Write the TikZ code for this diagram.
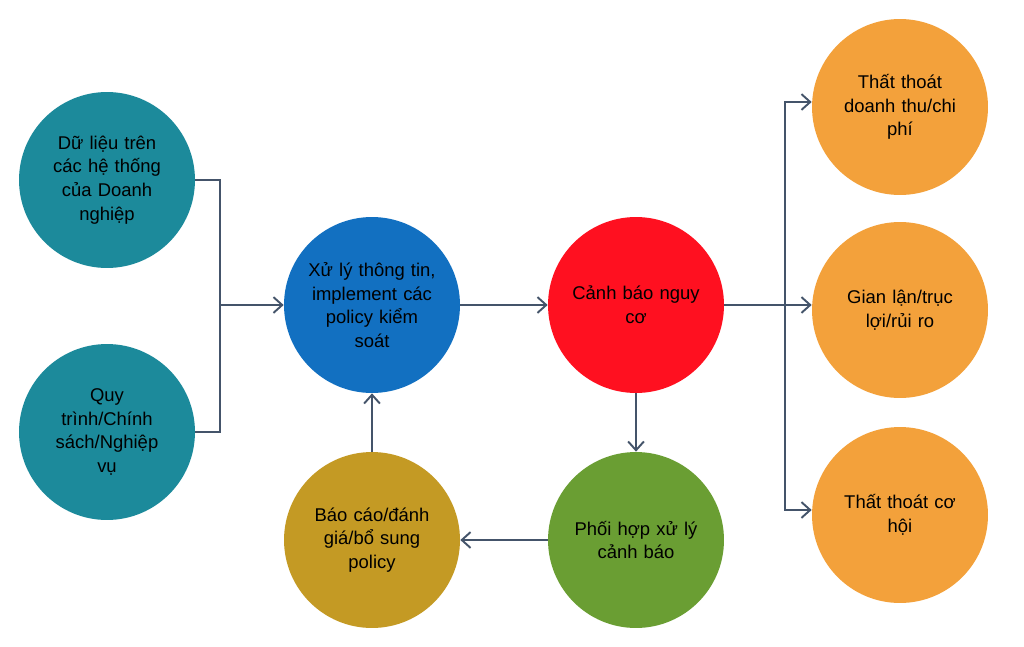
\documentclass[tikz,border=0pt]{standalone}
\usepackage{fontspec}
\setmainfont{Liberation Sans}
\usetikzlibrary{arrows.meta}
\definecolor{teal1}{HTML}{1C8A9B}
\definecolor{blue1}{HTML}{1270C1}
\definecolor{red1}{HTML}{FF1020}
\definecolor{green1}{HTML}{6A9E33}
\definecolor{gold1}{HTML}{C49A24}
\definecolor{orange1}{HTML}{F3A13B}
\definecolor{line1}{HTML}{44546A}
\tikzset{
every node/.style={font=\fontsize{10.5}{13.5}\selectfont}, % text size
stage/.style={circle, minimum size=3.52cm, inner sep=0pt, align=center, text width=3.0cm},
link/.style={draw=line1, line width=1.1pt},
arr/.style={link, -{Straight Barb[length=5pt,width=9pt]}},
}
\begin{document}
\begin{tikzpicture}[x=0.02cm,y=-0.02cm]
\useasboundingbox (0,0) rectangle (1024,646);
		\node[stage, fill=teal1] (data) at (107,180) {Dữ liệu trên\\các hệ thống\\của Doanh\\nghiệp};
		\node[stage, fill=teal1] (rule) at (107,432) {Quy\\trình/Chính\\sách/Nghiệp\\vụ};
		\node[stage, fill=blue1] (proc) at (372,305) {Xử lý thông tin,\\implement các\\policy kiểm\\soát};
		\node[stage, fill=red1] (warn) at (636,305) {Cảnh báo nguy\\cơ};
		\node[stage, fill=green1] (coop) at (636,540) {Phối hợp xử lý\\cảnh báo};
		\node[stage, fill=gold1] (rep) at (372,540) {Báo cáo/đánh\\giá/bổ sung\\policy};
		\node[stage, fill=orange1] (loss) at (900,107) {Thất thoát\\doanh thu/chi\\phí};
		\node[stage, fill=orange1] (fraud) at (900,310) {Gian lận/trục\\lợi/rủi ro};
		\node[stage, fill=orange1] (opp) at (900,515) {Thất thoát cơ\\hội};

		\coordinate (jin) at (220,305);
		\coordinate (jout) at (785,305);

		\draw[link] (data.east) -| (jin) |- (rule.east);
		\draw[arr] (jin) -- (proc);
		\draw[arr] (proc) -- (warn);
		\draw[link] (warn) -- (jout);
		\draw[arr] (jout) |- (loss.west |- 0,102);
		\draw[arr] (jout) -- (fraud.west |- 0,305);
		\draw[arr] (jout) |- (opp.west |- 0,510);
		\draw[arr] (warn) -- (coop);
		\draw[arr] (coop) -- (rep);
		\draw[arr] (rep) -- (proc);
\end{tikzpicture}
\end{document}
